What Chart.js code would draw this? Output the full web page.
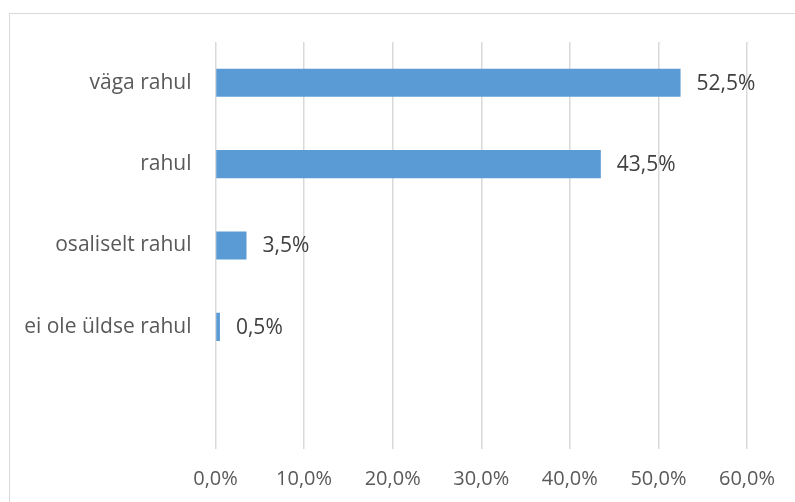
<!DOCTYPE html>
<html>
<head>
<meta charset="utf-8">
<script src="https://cdn.jsdelivr.net/npm/chart.js@4/dist/chart.umd.min.js"></script>
<style>
html,body{margin:0;padding:0;background:#fff;}
#wrap{position:relative;width:795px;height:502px;}
</style>
</head>
<body>
<div id="wrap"><canvas id="c" width="795" height="502"></canvas></div>
<script>
const categories = ['väga rahul', 'rahul', 'osaliselt rahul', 'ei ole üldse rahul', ''];
const values = [52.5, 43.5, 3.5, 0.5, null];
const xTicks = [0, 10, 20, 30, 40, 50, 60];

const fmt = (v, d) => v.toFixed(d).replace('.', ',') + '%';
const FONT = "'Open Sans', sans-serif";

const framePlugin = {
  id: 'frame',
  beforeDraw(chart) {
    const ctx = chart.ctx;
    ctx.save();
    ctx.fillStyle = '#fff';
    ctx.fillRect(0, 0, chart.width, chart.height);
    ctx.strokeStyle = '#d9d9d9';
    ctx.lineWidth = 1;
    ctx.strokeRect(9.5, 13.5, 1000, 1000);
    ctx.restore();
  }
};

const labelPlugin = {
  id: 'barLabels',
  afterDatasetsDraw(chart) {
    const ctx = chart.ctx;
    const meta = chart.getDatasetMeta(0);
    ctx.save();
    ctx.font = '21px ' + FONT;
    ctx.fillStyle = '#404040';
    ctx.textAlign = 'left';
    ctx.textBaseline = 'middle';
    meta.data.forEach((el, i) => {
      const v = values[i];
      if (v === null || v === undefined) return;
      ctx.fillText(fmt(v, 1), el.x + 16, el.y + 1);
    });
    ctx.restore();
  }
};

new Chart(document.getElementById('c'), {
  type: 'bar',
  data: {
    labels: categories,
    datasets: [{
      data: values,
      backgroundColor: '#5b9bd5',
      borderWidth: 0,
      categoryPercentage: 1,
      barPercentage: 0.345
    }]
  },
  options: {
    indexAxis: 'y',
    responsive: false,
    animation: false,
    devicePixelRatio: 1,
    layout: { padding: { top: 42, right: 48, bottom: 0, left: 0 } },
    plugins: { legend: { display: false }, tooltip: { enabled: false } },
    scales: {
      x: {
        min: 0, max: 60,
        afterBuildTicks(scale) { scale.ticks = xTicks.map(v => ({ value: v })); },
        afterFit(scale) { scale.height = 53; },
        grid: { color: '#d9d9d9', lineWidth: 1.5, drawTicks: false },
        border: { display: false },
        ticks: {
          padding: 18,
          color: '#595959',
          font: { family: FONT, size: 20 },
          callback: (v) => fmt(v, 1),
          maxRotation: 0
        }
      },
      y: {
        afterFit(scale) { scale.width = 215.5; },
        grid: { display: false, drawTicks: false },
        border: { display: false },
        ticks: {
          padding: 24,
          color: '#595959',
          font: { family: FONT, size: 21 }
        }
      }
    }
  },
  plugins: [framePlugin, labelPlugin]
});
</script>
</body>
</html>
